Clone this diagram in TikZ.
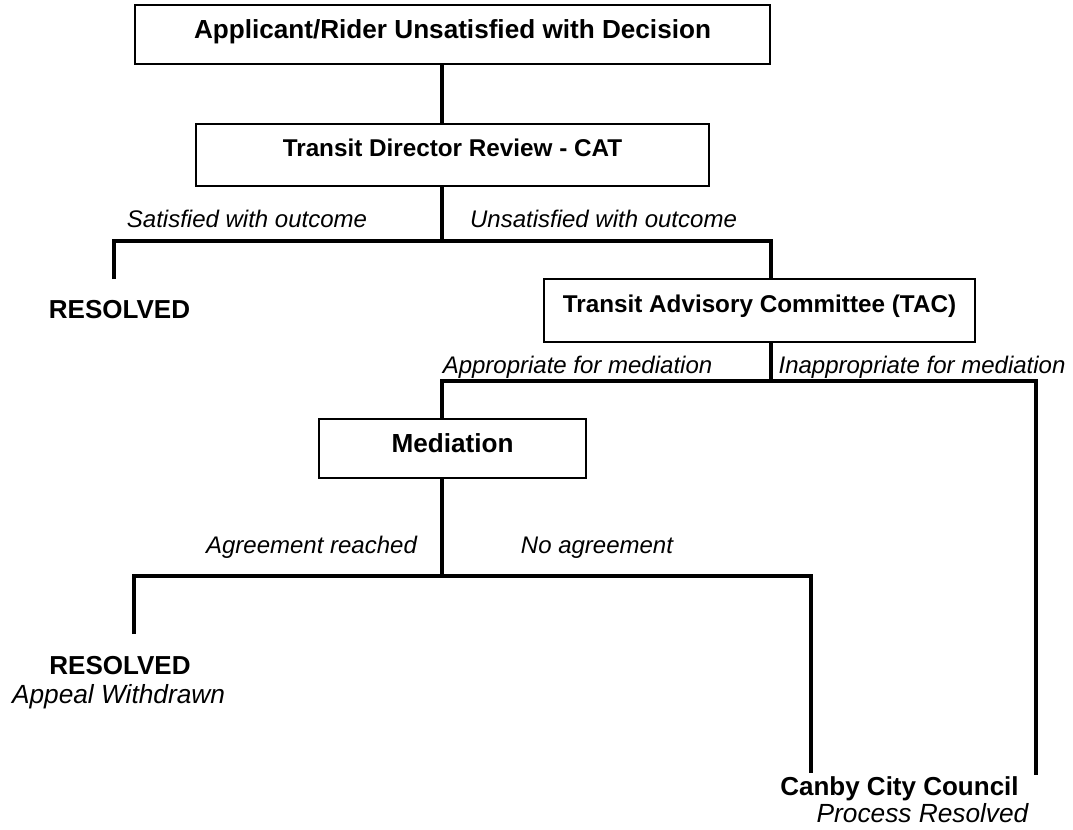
\documentclass[tikz,border=0pt]{standalone}
\usepackage{fontspec}
\setmainfont{Liberation Sans}
\usepackage{tikz}
\usetikzlibrary{positioning, calc}
\tikzset{x=0.75pt, y=-0.75pt, % One unit is one pixel of the original chart
        stage/.style={ % Boxed step of the appeal
            draw, rectangle, line width=1.5pt,
            inner sep=0pt,
            font=\fontsize{19.6}{22}\selectfont\bfseries,
            text height=12pt, text depth=6pt},
        review stage/.style={ % The two review boxes use a slightly smaller type
            stage,
            font=\fontsize{18.2}{21}\selectfont\bfseries,
            text height=10pt, text depth=7.4pt},
        outcome/.style={ % Bold end result, no box
            anchor=base, inner sep=0pt,
            font=\fontsize{19.5}{22}\selectfont\bfseries},
        note/.style={ % Italic remark over a branch
            anchor=base, inner sep=0pt,
            font=\fontsize{18}{20}\selectfont\itshape},
        subnote/.style={ % Italic remark under a result
            note, font=\fontsize{19.7}{22}\selectfont\itshape},
        link/.style={ % Connecting lines
            draw, line width=2.4pt}
        }

\begin{document}
\begin{tikzpicture}
    \useasboundingbox (0,0) rectangle (1073,829);

    \node[stage, minimum width=476.25pt, minimum height=44.25pt] (appl) at (452.5,34.5) {Applicant/Rider Unsatisfied with Decision};
    \node[review stage, minimum width=384.75pt, minimum height=46.5pt] (review) at (452.5,155) {Transit Director Review - CAT};
    \node[review stage, minimum width=323.25pt, minimum height=47.25pt] (tac) at (759.5,310.5) {Transit Advisory Committee (TAC)};
    \node[stage, minimum width=200.25pt, minimum height=44.25pt] (med) at (452.5,448.5) {Mediation};

    \node[outcome] (res1) at (119.5,318) {RESOLVED};
    \node[outcome] (res2) at (120,674) {RESOLVED};
    \node[subnote] (withdrawn) at (118.5,703) {Appeal Withdrawn};
    \node[outcome] (council) at (899.5,795) {Canby City Council};
    \node[subnote] (process) at (922.5,822) {Process Resolved};

    \node[note] (sat) at (247,227.5) {Satisfied with outcome};
    \node[note] (unsat) at (603.5,227.5) {Unsatisfied with outcome};
    \node[note] (approp) at (577.5,373) {Appropriate for mediation};
    \node[note] (inapprop) at (922,373) {Inappropriate for mediation};
    \node[note] (agree) at (311.5,553) {Agreement reached};
    \node[note] (noagree) at (597,553) {No agreement};

    % branch points and loose line ends
    \coordinate (j1) at (442,241);
    \coordinate (l1) at (114,279);
    \coordinate (r1) at (771,241);
    \coordinate (j2) at (771,381);
    \coordinate (r2) at (1036,381);
    \coordinate (l2) at (1036,775);
    \coordinate (j3) at (442,576);
    \coordinate (l3) at (134,634);
    \coordinate (r3) at (811,576);
    \coordinate (l4) at (811,773);

    \draw[link] (appl.south -| j1) -- (review.north -| j1);
    \draw[link] (review.south -| j1) -- (j1);
    \draw[link] (l1) |- (r1) -- (tac.north -| r1);

    \draw[link] (tac.south -| j2) -- (j2);
    \draw[link] (med.north -| j1) |- (r2) -- (l2);

    \draw[link] (med.south -| j3) -- (j3);
    \draw[link] (l3) |- (r3) -- (l4);
\end{tikzpicture}
\end{document}
